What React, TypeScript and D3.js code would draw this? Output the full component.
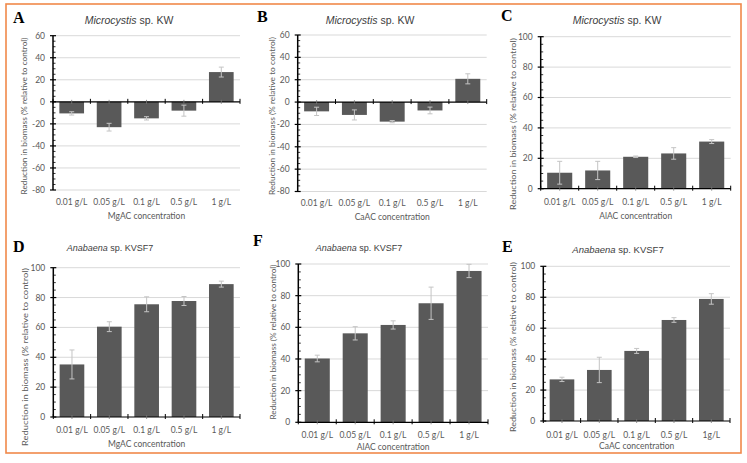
import React from 'react';
import * as d3 from 'd3';

// ---------- data ----------
const categories = ['0.01 g/L', '0.05 g/L', '0.1 g/L', '0.5 g/L', '1 g/L'];
const categoriesE = ['0.01 g/L', '0.05 g/L', '0.1 g/L', '0.5 g/L', '1g/L'];

const mgMicroValues = [-10.5, -23, -15, -8, 27];
const mgMicroErrors = [1.5, 3.5, 1.5, 5, 4.5];
const caMicroValues = [-8.3, -11.5, -17.5, -7.5, 20.8];
const caMicroErrors = [3.7, 4.5, 1, 3, 4.5];
const alMicroValues = [10.5, 12, 21, 23.2, 31];
const alMicroErrors = [7.5, 6, 0.5, 3.8, 1.3];
const mgAnaValues = [35.2, 60.5, 75.5, 77.7, 89];
const mgAnaErrors = [9.7, 3.3, 5, 3, 2];
const alAnaValues = [40.3, 56.2, 61.5, 75.2, 95.6];
const alAnaErrors = [2.1, 4.2, 2.6, 10.2, 4.2];
const caAnaValues = [26.9, 33, 45.3, 65.3, 78.9];
const caAnaErrors = [1.4, 8.2, 1.6, 1.5, 3.4];

const yTicksSigned = [-80, -60, -40, -20, 0, 20, 40, 60];
const yTicksPositive = [0, 20, 40, 60, 80, 100];

const yLabel = 'Reduction in biomass (% relative to control)';

// ---------- layout / styling ----------
const W = 747;
const H = 463;
const BAR = '#595959';
const GRID = '#d9d9d9';
const ERR = '#c4c4c4';
const TXT = '#595959';
const ORANGE = '#f0894a';
const SANS = '"Liberation Sans", Arial, sans-serif';
const LABEL = 'Lato, "Open Sans", sans-serif';

type Panel = {
  letter: string;
  genus: string;
  strain: string;
  xTitle: string;
  cats: string[];
  values: number[];
  errors: number[];
  ticks: number[];
  x0: number; x1: number; yTop: number; yBot: number;
  titleX: number; titleY: number; titleSize: number;
  letterX: number; letterY: number;
  ylabX: number; ylabCY: number; ylabLen: number;
  xTickY: number; xTitleY: number;
};

const panels: Panel[] = [
  {
    letter: 'A', genus: 'Microcystis', strain: ' sp. KW', xTitle: 'MgAC concentration',
    cats: categories, values: mgMicroValues, errors: mgMicroErrors, ticks: yTicksSigned,
    x0: 53, x1: 240, yTop: 35.7, yBot: 190,
    titleX: 129, titleY: 24, titleSize: 10.5, letterX: 13, letterY: 23,
    ylabX: 24, ylabCY: 116, ylabLen: 157, xTickY: 205, xTitleY: 219,
  },
  {
    letter: 'B', genus: 'Microcystis', strain: ' sp. KW', xTitle: 'CaAC concentration',
    cats: categories, values: caMicroValues, errors: caMicroErrors, ticks: yTicksSigned,
    x0: 297.7, x1: 486.7, yTop: 35, yBot: 191.5,
    titleX: 370, titleY: 24, titleSize: 10.5, letterX: 257, letterY: 22,
    ylabX: 272, ylabCY: 116, ylabLen: 158, xTickY: 206, xTitleY: 220,
  },
  {
    letter: 'C', genus: 'Microcystis', strain: ' sp. KW', xTitle: 'AlAC concentration',
    cats: categories, values: alMicroValues, errors: alMicroErrors, ticks: yTicksPositive,
    x0: 540.7, x1: 730.7, yTop: 36.7, yBot: 188.7,
    titleX: 617, titleY: 24, titleSize: 10.5, letterX: 501, letterY: 21,
    ylabX: 513, ylabCY: 124, ylabLen: 172, xTickY: 205, xTitleY: 219,
  },
  {
    letter: 'D', genus: 'Anabaena', strain: ' sp. KVSF7', xTitle: 'MgAC concentration',
    cats: categories, values: mgAnaValues, errors: mgAnaErrors, ticks: yTicksPositive,
    x0: 53.3, x1: 240, yTop: 267.7, yBot: 417,
    titleX: 110, titleY: 251, titleSize: 9, letterX: 13, letterY: 252,
    ylabX: 25, ylabCY: 357, ylabLen: 178, xTickY: 433, xTitleY: 447,
  },
  {
    letter: 'F', genus: 'Anabaena', strain: ' sp. KVSF7', xTitle: 'AlAC concentration',
    cats: categories, values: alAnaValues, errors: alAnaErrors, ticks: yTicksPositive,
    x0: 298.3, x1: 488, yTop: 264, yBot: 422.3,
    titleX: 359, titleY: 251, titleSize: 9, letterX: 253, letterY: 246,
    ylabX: 273, ylabCY: 342, ylabLen: 155, xTickY: 438, xTitleY: 450,
  },
  {
    letter: 'E', genus: 'Anabaena', strain: ' sp. KVSF7', xTitle: 'CaAC concentration',
    cats: categoriesE, values: caAnaValues, errors: caAnaErrors, ticks: yTicksPositive,
    x0: 543.3, x1: 730, yTop: 266.3, yBot: 421,
    titleX: 618, titleY: 253, titleSize: 9.5, letterX: 502, letterY: 252,
    ylabX: 513, ylabCY: 347, ylabLen: 170, xTickY: 438, xTitleY: 449,
  },
];

function ChartPanel({ p }: { p: Panel }) {
  const dom = d3.extent(p.ticks) as [number, number];
  const y = d3.scaleLinear().domain(dom).range([p.yBot, p.yTop]);
  const x = d3
    .scaleBand<string>()
    .domain(p.cats)
    .range([p.x0, p.x1])
    .paddingInner(0.34)
    .paddingOuter(0.17);
  const step = x.step();
  const bw = x.bandwidth();
  const y0 = y(0);
  const minor = d3.range(dom[0], dom[1] + 0.001, 5).filter((v) => v % 20 !== 0);
  const boundaries = d3.range(0, p.cats.length + 1).map((i) => p.x0 + i * step);

  return (
    <g>
      {/* gridlines */}
      {p.ticks.filter((t) => t !== 0).map((t) => (
        <line key={'g' + t} x1={p.x0} x2={p.x1} y1={y(t)} y2={y(t)} stroke={GRID} strokeWidth={1} />
      ))}
      {/* bars */}
      {p.values.map((v, i) => {
        const cx = (x(p.cats[i]) as number);
        return (
          <rect key={'b' + i} x={cx} width={bw} y={Math.min(y(v), y0)} height={Math.abs(y(v) - y0)} fill={BAR} />
        );
      })}
      {/* error bars */}
      {p.values.map((v, i) => {
        const cx = (x(p.cats[i]) as number) + bw / 2;
        const hi = y(v + p.errors[i]);
        const lo = y(v - p.errors[i]);
        return (
          <g key={'e' + i} stroke={ERR} strokeWidth={1}>
            <line x1={cx} x2={cx} y1={hi} y2={lo} />
            <line x1={cx - 2.5} x2={cx + 2.5} y1={hi} y2={hi} />
            <line x1={cx - 2.5} x2={cx + 2.5} y1={lo} y2={lo} />
          </g>
        );
      })}
      {/* x axis line at zero */}
      <line x1={p.x0} x2={p.x1} y1={y0} y2={y0} stroke="#000" strokeWidth={1.2} />
      {boundaries.map((bx, i) => (
        <line key={'xb' + i} x1={bx} x2={bx} y1={y0 - 3} y2={y0 + 2} stroke="#000" strokeWidth={1} />
      ))}
      {p.cats.map((c, i) => {
        const cx = (x(c) as number) + bw / 2;
        return <line key={'xc' + i} x1={cx} x2={cx} y1={y0 - 2} y2={y0 + 2} stroke="#777" strokeWidth={0.8} />;
      })}
      {/* y axis */}
      <line x1={p.x0} x2={p.x0} y1={p.yTop} y2={p.yBot} stroke="#000" strokeWidth={1.5} />
      {p.ticks.map((t) => (
        <line key={'yt' + t} x1={p.x0 - 3} x2={p.x0 + 3} y1={y(t)} y2={y(t)} stroke="#000" strokeWidth={1.2} />
      ))}
      {minor.map((t) => (
        <line key={'ym' + t} x1={p.x0} x2={p.x0 + 2.5} y1={y(t)} y2={y(t)} stroke="#000" strokeWidth={0.8} />
      ))}
      {p.ticks.map((t) => (
        <text key={'yl' + t} x={p.x0 - 8} y={y(t)} dy="0.35em" textAnchor="end" fontFamily={LABEL} fontSize={8.5} fill={TXT}>
          {t}
        </text>
      ))}
      {/* x tick labels */}
      {p.cats.map((c) => (
        <text key={'xl' + c} x={(x(c) as number) + bw / 2} y={p.xTickY} textAnchor="middle" fontFamily={LABEL} fontSize={8.5} fill={TXT}>
          {c}
        </text>
      ))}
      <text x={(p.x0 + p.x1) / 2} y={p.xTitleY} textAnchor="middle" fontFamily={LABEL} fontSize={8.5} fill={TXT}>
        {p.xTitle}
      </text>
      {/* y label */}
      <text
        transform={`translate(${p.ylabX},${p.ylabCY}) rotate(-90)`}
        textAnchor="middle"
        dy="0.35em"
        fontFamily={LABEL}
        fontSize={8}
        fill={TXT}
        textLength={p.ylabLen}
        lengthAdjust="spacingAndGlyphs"
      >
        {yLabel}
      </text>
      {/* title */}
      <text x={p.titleX} y={p.titleY} textAnchor="middle" fontFamily={SANS} fontSize={p.titleSize} fill="#404040">
        <tspan fontStyle="italic">{p.genus}</tspan>
        <tspan>{p.strain}</tspan>
      </text>
      {/* panel letter */}
      <text x={p.letterX} y={p.letterY} fontFamily='"Liberation Serif", "Times New Roman", serif' fontWeight="bold" fontSize={16} fill="#000">
        {p.letter}
      </text>
    </g>
  );
}

export default function App() {
  return (
    <svg
      width={W}
      height={H}
      viewBox={`0 0 ${W} ${H}`}
      style={{ position: 'fixed', left: 0, top: 0, background: '#fff' }}
    >
      <rect x={0} y={0} width={W} height={H} fill="#fff" />
      <rect x={6} y={4} width={735} height={449} fill="none" stroke={ORANGE} strokeWidth={1.6} />
      {panels.map((p) => (
        <ChartPanel key={p.letter} p={p} />
      ))}
    </svg>
  );
}
